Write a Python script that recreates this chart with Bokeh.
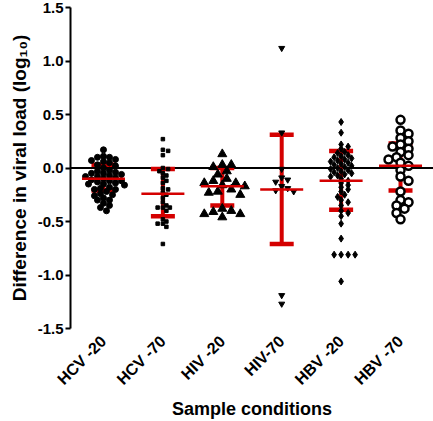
import numpy as np
from bokeh.plotting import figure
from bokeh.models import (Range1d, FixedTicker, PrintfTickFormatter, Span,
                          Whisker, TeeHead, ColumnDataSource)
from bokeh.embed import file_html
from bokeh.resources import INLINE

# ---------------- data ----------------
categories = ["HCV -20", "HCV -70", "HIV -20", "HIV-70", "HBV -20", "HBV -70"]

hcv_20 = [0.17, 0.11, 0.10, 0.10, 0.08, 0.07, 0.06, 0.05, 0.03, 0.02, 0.00,
          -0.02, -0.03, -0.04, -0.05, -0.05, -0.06, -0.07, -0.08, -0.08,
          -0.09, -0.10, -0.11, -0.12, -0.12, -0.13, -0.14, -0.15, -0.15,
          -0.16, -0.18, -0.19, -0.20, -0.20, -0.22, -0.24, -0.25, -0.26,
          -0.28, -0.30, -0.30, -0.33, -0.35, -0.37, -0.40]
hcv_70 = [0.27, 0.17, 0.16, 0.12, 0.00, -0.01, -0.03, -0.05, -0.07, -0.09,
          -0.12, -0.14, -0.19, -0.20, -0.23, -0.25, -0.28, -0.32, -0.35,
          -0.37, -0.37, -0.37, -0.40, -0.48, -0.50, -0.52, -0.52, -0.55, -0.71]
hiv_20 = [0.13, 0.03, 0.03, 0.01, -0.03, -0.06, -0.10, -0.12, -0.14, -0.14,
          -0.16, -0.17, -0.20, -0.22, -0.23, -0.25, -0.38, -0.40, -0.41,
          -0.43, -0.43, -0.46]
hiv_70 = [1.12, 0.33, -0.01, -0.09, -0.11, -0.13, -0.17, -0.19, -0.21,
          -0.22, -1.19, -1.27]
hbv_20 = [0.43, 0.33, 0.22, 0.20, 0.18, 0.15, 0.14, 0.12, 0.11, 0.10, 0.09,
          0.08, 0.07, 0.06, 0.05, 0.04, 0.03, 0.02, 0.01, 0.00, -0.01, -0.02,
          -0.03, -0.04, -0.05, -0.06, -0.07, -0.08, -0.10, -0.12, -0.14,
          -0.16, -0.18, -0.20, -0.22, -0.25, -0.27, -0.30, -0.32, -0.35,
          -0.40, -0.42, -0.45, -0.52, -0.66, -0.81, -0.81, -0.81, -0.81, -1.06]
hbv_70 = [0.45, 0.35, 0.32, 0.28, 0.25, 0.22, 0.20, 0.18, 0.15, 0.12, 0.10,
          0.08, 0.05, 0.02, -0.02, -0.08, -0.12, -0.22, -0.30, -0.32, -0.35,
          -0.38, -0.42, -0.48]

means = [-0.10, -0.24, -0.17, -0.20, -0.12, 0.02]
upper = [0.03, -0.01, 0.00, 0.31, 0.16, 0.23]
lower = [-0.21, -0.45, -0.35, -0.71, -0.39, -0.21]

y_ticks = [-1.5, -1.0, -0.5, 0.0, 0.5, 1.0, 1.5]

# ---------------- figure ----------------
FONT = "Liberation Sans"
W, H = 433, 421
XR = (0.445, 6.555)
p = figure(width=W, height=H, output_backend="svg", toolbar_location=None,
           x_range=Range1d(*XR), y_range=Range1d(-1.5, 1.5),
           min_border_left=70, min_border_right=0, min_border_top=7,
           min_border_bottom=93)
p.outline_line_color = None
p.grid.visible = False
p.background_fill_color = "white"

# pixel scales used for swarm layout
px_x = (W - 70) / (XR[1] - XR[0])
px_y = 321 / 3.0


def swarm(vals, center, diam, tight=0.72):
    order = np.argsort(-np.array(vals), kind="stable")
    placed = []
    xs = [0.0] * len(vals)
    step = diam * 0.5
    lim = (diam * tight) ** 2
    for i in order:
        y = vals[i] * px_y
        k = 0
        while True:
            n = (k + 1) // 2
            off = n * step * (1 if k % 2 == 1 else -1)
            ok = all((off - ox) ** 2 + (y - oy) ** 2 >= lim
                     for ox, oy in placed)
            if ok:
                placed.append((off, y))
                xs[i] = center + off / px_x
                break
            k += 1
    return xs


groups = [
    (hcv_20, "circle", 6, 0.75, dict(fill_color="black", line_color="black")),
    (hcv_70, "square", 3.5, 1.1, dict(fill_color="black", line_color="black")),
    (hiv_20, "triangle", 9, 0.8, dict(fill_color="black", line_color="black")),
    (hiv_70, "inverted_triangle", 6, 1.0, dict(fill_color="black", line_color="black")),
    (hbv_20, "diamond", 7, 0.6, dict(fill_color="black", line_color="black")),
    (hbv_70, "circle", 8, 0.75, dict(fill_color="white", line_color="black", line_width=2.5)),
]

for idx, (vals, marker, size, tight, style) in enumerate(groups):
    cx = idx + 1
    xs = swarm(vals, cx, size, tight)
    p.scatter(xs, vals, marker=marker, size=size, **style)

zero = Span(location=0, dimension="width", line_color="black", line_width=2,
            level="underlay")
p.add_layout(zero)

RED = "#d40000"
xpos = list(range(1, len(categories) + 1))
src = ColumnDataSource(dict(x=xpos, m=means, up=upper, lo=lower))
wh = Whisker(source=src, base="x", upper="up", lower="lo",
             line_color=RED, line_width=4,
             upper_head=TeeHead(size=24, line_color=RED, line_width=4.5),
             lower_head=TeeHead(size=24, line_color=RED, line_width=4.5))
p.add_layout(wh)
p.scatter("x", "m", source=src, marker="dash", size=43, line_color=RED,
          line_width=2.5)

# ---------------- axes ----------------
ya = p.yaxis[0]
ya.ticker = FixedTicker(ticks=y_ticks)
ya.formatter = PrintfTickFormatter(format="%.1f")
ya.axis_line_width = 2
ya.axis_line_color = "black"
ya.major_tick_line_width = 2
ya.major_tick_line_color = "black"
ya.major_tick_in = 0
ya.major_tick_out = 5
ya.minor_tick_line_color = None
ya.major_label_text_font = FONT
ya.major_label_text_font_style = "bold"
ya.major_label_text_font_size = "15px"
ya.major_label_text_color = "black"
ya.major_label_standoff = 2
ya.axis_label = "Difference in viral load (log₁₀)"
ya.axis_label_text_font = FONT
ya.axis_label_text_font_style = "bold"
ya.axis_label_text_font_size = "19px"
ya.axis_label_text_color = "black"
ya.axis_label_standoff = 5

xa = p.xaxis[0]
xa.ticker = FixedTicker(ticks=xpos)
xa.major_label_overrides = {i + 1: c for i, c in enumerate(categories)}
xa.major_label_orientation = np.pi / 4
xa.axis_line_color = None
xa.major_tick_line_color = None
xa.minor_tick_line_color = None
xa.major_label_text_font = FONT
xa.major_label_text_font_style = "bold"
xa.major_label_text_font_size = "16px"
xa.major_label_text_color = "black"
xa.major_label_standoff = 4
xa.axis_label = "Sample conditions"
xa.axis_label_text_font = FONT
xa.axis_label_text_font_style = "bold"
xa.axis_label_text_font_size = "18px"
xa.axis_label_text_color = "black"
xa.axis_label_standoff = 2

open("out.html", "w").write(file_html(p, INLINE))
